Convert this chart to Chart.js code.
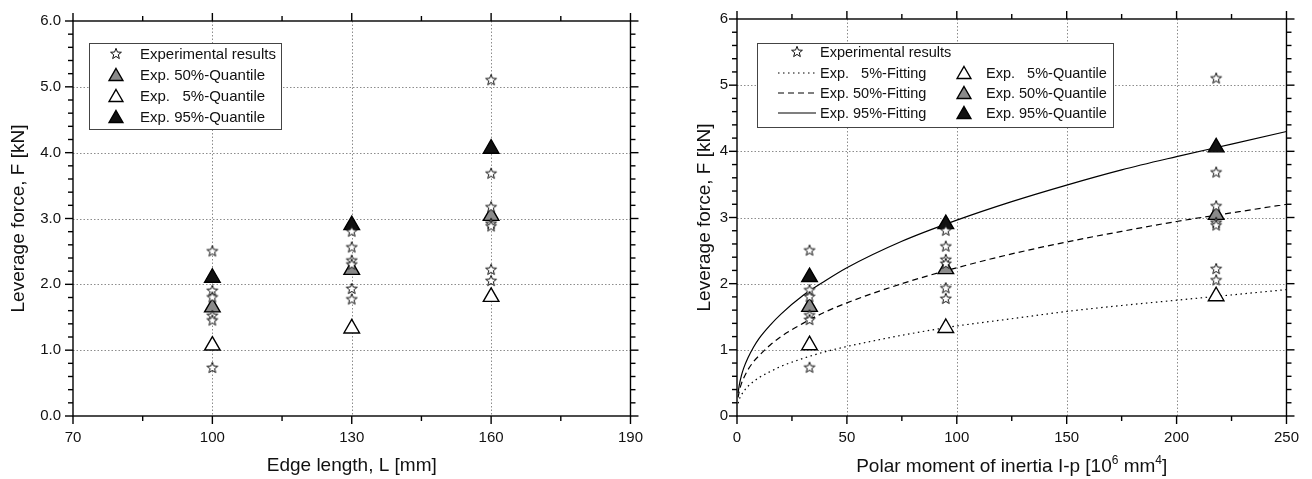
<!DOCTYPE html>
<html>
<head>
<meta charset="utf-8">
<script src="https://cdn.jsdelivr.net/npm/chart.js@4.4.1/dist/chart.umd.min.js"></script>
<style>
  html, body { margin: 0; padding: 0; background: #fff; }
  #wrap { position: relative; width: 1312px; height: 479px; }
  .box { position: absolute; top: 0; width: 656px; height: 479px; }
</style>
</head>
<body>
<div id="wrap">
  <div class="box" style="left:0"><canvas id="left" width="656" height="479"></canvas></div>
  <div class="box" style="left:656px"><canvas id="right" width="656" height="479"></canvas></div>
</div>
<script>
// measured values
var edgeLength = [100, 130, 160];
var polarMoment = [33, 95, 218];
var results1 = [2.50, 1.90, 1.80, 1.52, 1.45, 0.73];
var results2 = [2.80, 2.56, 2.36, 2.30, 1.93, 1.77];
var results3 = [5.10, 3.68, 3.17, 2.92, 2.88, 2.22, 2.05];
var quantile5 = [1.07, 1.33, 1.81];
var quantile50 = [1.65, 2.22, 3.04];
var quantile95 = [2.10, 2.90, 4.06];

// fitting curves
var fitX = [0.5, 1, 2, 3, 5, 7.5, 10, 15, 20, 30, 40, 50, 75, 100, 125, 150, 175, 200, 225, 250];
var fit5 = [0.19, 0.25, 0.32, 0.37, 0.45, 0.52, 0.58, 0.67, 0.75, 0.87, 0.97, 1.05, 1.22, 1.36, 1.47, 1.58, 1.67, 1.75, 1.83, 1.91];
var fit50 = [0.28, 0.37, 0.49, 0.57, 0.70, 0.82, 0.91, 1.07, 1.20, 1.40, 1.57, 1.71, 2.00, 2.24, 2.45, 2.63, 2.79, 2.94, 3.07, 3.20];
var fit95 = [0.35, 0.46, 0.61, 0.72, 0.88, 1.04, 1.17, 1.37, 1.54, 1.82, 2.04, 2.24, 2.64, 2.96, 3.24, 3.49, 3.72, 3.92, 4.11, 4.30];

var leftXTicks = [70, 100, 130, 160, 190];
var rightXTicks = [0, 50, 100, 150, 200, 250];
var yTicks = [0, 1, 2, 3, 4, 5, 6];

var FONT = "'Liberation Sans', Arial, sans-serif";
Chart.defaults.font.family = FONT;
Chart.defaults.color = '#111';

// five point star marker
var star = document.createElement('canvas');
star.width = 14; star.height = 14;
(function() {
  var c = star.getContext('2d');
  c.beginPath();
  for (var i = 0; i < 10; i++) {
    var r = i % 2 ? 2.4 : 5.7;
    var a = -Math.PI / 2 + i * Math.PI / 5;
    var px = 7 + r * Math.cos(a), py = 7 + r * Math.sin(a);
    if (i == 0) c.moveTo(px, py); else c.lineTo(px, py);
  }
  c.closePath();
  c.fillStyle = '#fff';
  c.fill();
  c.strokeStyle = '#111';
  c.lineWidth = 1;
  c.stroke();
})();

function pts(xs, ys) {
  var out = [];
  for (var i = 0; i < ys.length; i++) out.push({x: xs[i], y: ys[i]});
  return out;
}
function starPts(xs) {
  var out = [];
  [results1, results2, results3].forEach(function(r, i) {
    r.forEach(function(v) { out.push({x: xs[i], y: v}); });
  });
  return out;
}

function starSet(xs) {
  return { label: 'Experimental results', data: starPts(xs), pointStyle: star, pointRadius: 6,
           backgroundColor: '#fff', borderColor: '#111', borderWidth: 1 };
}
function triSet(label, xs, ys, fill, r) {
  return { label: label, data: pts(xs, ys), pointStyle: 'triangle', pointRadius: r,
           backgroundColor: fill, borderColor: '#000', borderWidth: 1.4 };
}
function fitSet(label, ys, dash) {
  return { label: label, data: pts(fitX, ys), showLine: true, pointRadius: 0, borderColor: '#000',
           borderWidth: 1.2, borderDash: dash, cubicInterpolationMode: 'monotone', fill: false };
}

// dotted grid, frame and outward ticks
var framePlugin = {
  id: 'frame',
  beforeDatasetsDraw: function(chart, args, o) {
    var ctx = chart.ctx, a = chart.chartArea, x = chart.scales.x, y = chart.scales.y;
    ctx.save();
    ctx.strokeStyle = '#8c8c8c';
    ctx.lineWidth = 1;
    ctx.setLineDash([1.5, 2]);
    x.ticks.forEach(function(t) {
      if (t.value <= x.min || t.value >= x.max) return;
      var px = Math.round(x.getPixelForValue(t.value)) + 0.5;
      ctx.beginPath(); ctx.moveTo(px, a.top); ctx.lineTo(px, a.bottom); ctx.stroke();
    });
    y.ticks.forEach(function(t) {
      if (t.value <= y.min || t.value >= y.max) return;
      var py = Math.round(y.getPixelForValue(t.value)) + 0.5;
      ctx.beginPath(); ctx.moveTo(a.left, py); ctx.lineTo(a.right, py); ctx.stroke();
    });
    ctx.restore();
  },
  afterDraw: function(chart, args, o) {
    var ctx = chart.ctx, a = chart.chartArea, x = chart.scales.x, y = chart.scales.y;
    ctx.save();
    ctx.strokeStyle = '#000';
    ctx.lineWidth = 1.4;
    ctx.setLineDash([]);
    ctx.strokeRect(a.left, a.top, a.right - a.left, a.bottom - a.top);
    function seg(x1, y1, x2, y2) { ctx.beginPath(); ctx.moveTo(x1, y1); ctx.lineTo(x2, y2); ctx.stroke(); }
    var n = Math.round((x.max - x.min) / o.xMinor);
    for (var i = 0; i <= n; i++) {
      var len = i % o.xEvery == 0 ? 8 : 5;
      var px = x.getPixelForValue(x.min + i * o.xMinor);
      seg(px, a.bottom, px, a.bottom + len);
      seg(px, a.top, px, a.top - len);
    }
    n = Math.round((y.max - y.min) / o.yMinor);
    for (i = 0; i <= n; i++) {
      len = i % o.yEvery == 0 ? 8 : 5;
      var py = y.getPixelForValue(y.min + i * o.yMinor);
      seg(a.left, py, a.left - len, py);
      seg(a.right, py, a.right + len, py);
    }
    if (o.title) {
      // axis title with superscripts
      var cx = (a.left + a.right) / 2, base = 472;
      var big = '19px ' + FONT, small = '12px ' + FONT;
      var parts = [[o.title[0], big, 0], [o.title[1], small, -8], [o.title[2], big, 0], [o.title[3], small, -8], [o.title[4], big, 0]];
      var w = 0;
      parts.forEach(function(p) { ctx.font = p[1]; w += ctx.measureText(p[0]).width; });
      var tx = cx - w / 2;
      ctx.fillStyle = '#111';
      ctx.textBaseline = 'alphabetic';
      parts.forEach(function(p) {
        ctx.font = p[1];
        ctx.fillText(p[0], tx, base + p[2]);
        tx += ctx.measureText(p[0]).width;
      });
    }
    ctx.restore();
  }
};

// boxed legend
var legendPlugin = {
  id: 'boxLegend',
  afterDatasetsDraw: function(chart, args, o) {
    var ctx = chart.ctx;
    ctx.save();
    ctx.fillStyle = '#fff';
    ctx.fillRect(o.box[0], o.box[1], o.box[2], o.box[3]);
    ctx.strokeStyle = '#444';
    ctx.lineWidth = 1;
    ctx.strokeRect(o.box[0] + 0.5, o.box[1] + 0.5, o.box[2], o.box[3]);
    o.items.forEach(function(it) {
      var ds = chart.data.datasets[it.ds];
      var my = o.rowY[it.row];
      var mx = o.colX[it.col];
      if (ds.showLine) {
        ctx.strokeStyle = ds.borderColor;
        ctx.lineWidth = ds.borderWidth;
        ctx.setLineDash(ds.borderDash || []);
        ctx.beginPath(); ctx.moveTo(mx - 19, my); ctx.lineTo(mx + 19, my); ctx.stroke();
        ctx.setLineDash([]);
      } else {
        ctx.fillStyle = ds.backgroundColor;
        ctx.strokeStyle = ds.borderColor;
        ctx.lineWidth = ds.borderWidth;
        Chart.helpers.drawPoint(ctx, {pointStyle: ds.pointStyle, radius: ds.pointStyle == 'triangle' ? 8 : ds.pointRadius,
                                       rotation: 0, borderWidth: ds.borderWidth}, mx, my + (ds.pointStyle == 'triangle' ? 1.5 : 0));
      }
      ctx.fillStyle = '#111';
      ctx.font = o.font + 'px ' + FONT;
      ctx.textBaseline = 'middle';
      ctx.fillText(ds.label, o.textX[it.col], my + 1);
    });
    ctx.restore();
  }
};

function makeScales(xMin, xMax, xTicks, xTitle, yWidth, yFmt, yTitlePad, yLabelPad) {
  return {
    x: {
      type: 'linear', min: xMin, max: xMax,
      afterFit: function(s) { s.height = 63; },
      afterBuildTicks: function(s) { s.ticks = xTicks.map(function(v) { return {value: v}; }); },
      grid: { display: false, drawTicks: false },
      border: { display: false },
      ticks: { padding: 13, autoSkip: false, maxRotation: 0, font: { size: 15 }, color: '#111' },
      title: { display: !!xTitle, text: xTitle, font: { size: 19 }, color: '#111', padding: { top: 0, bottom: 2 } }
    },
    y: {
      type: 'linear', min: 0, max: 6,
      afterFit: function(s) { s.width = yWidth; },
      afterBuildTicks: function(s) { s.ticks = yTicks.map(function(v) { return {value: v}; }); },
      grid: { display: false, drawTicks: false },
      border: { display: false },
      ticks: { padding: yLabelPad, font: { size: 15 }, color: '#111', callback: yFmt },
      title: { display: true, text: 'Leverage force, F [kN]', font: { size: 19 }, color: '#111', padding: { top: yTitlePad, bottom: 0 } }
    }
  };
}

new Chart(document.getElementById('left'), {
  type: 'scatter',
  data: {
    datasets: [
      starSet(edgeLength),
      triSet('Exp. 50%-Quantile', edgeLength, quantile50, '#8a8a8a', 9),
      triSet('Exp.   5%-Quantile', edgeLength, quantile5, '#fff', 9),
      triSet('Exp. 95%-Quantile', edgeLength, quantile95, '#111', 9)
    ]
  },
  options: {
    responsive: false, animation: false, events: [],
    layout: { padding: { left: 0, right: 15, top: 19, bottom: 0 } },
    scales: makeScales(70, 190, leftXTicks, 'Edge length, L [mm]', 73, function(v) { return v.toFixed(1); }, 7.6, 12),
    plugins: {
      legend: { display: false }, tooltip: { enabled: false },
      frame: { xMinor: 15, xEvery: 2, yMinor: 0.2, yEvery: 5 },
      boxLegend: {
        font: 15,
        box: [89, 43, 192, 86], rowY: [54, 75, 96, 117], colX: [116], textX: [140],
        items: [{ds: 0, row: 0, col: 0}, {ds: 1, row: 1, col: 0}, {ds: 2, row: 2, col: 0}, {ds: 3, row: 3, col: 0}]
      }
    }
  },
  plugins: [framePlugin, legendPlugin]
});

new Chart(document.getElementById('right'), {
  type: 'scatter',
  data: {
    datasets: [
      starSet(polarMoment),
      triSet('Exp.   5%-Quantile', polarMoment, quantile5, '#fff', 9),
      triSet('Exp. 50%-Quantile', polarMoment, quantile50, '#8a8a8a', 9),
      triSet('Exp. 95%-Quantile', polarMoment, quantile95, '#111', 9),
      fitSet('Exp.   5%-Fitting', fit5, [1.5, 3.5]),
      fitSet('Exp. 50%-Fitting', fit50, [6, 4]),
      fitSet('Exp. 95%-Fitting', fit95, [])
    ]
  },
  options: {
    responsive: false, animation: false, events: [],
    layout: { padding: { left: 0, right: 14, top: 19, bottom: 0 } },
    scales: makeScales(0, 250, rightXTicks, '', 81, function(v) { return String(v); }, 37.6, 9),
    plugins: {
      legend: { display: false }, tooltip: { enabled: false },
      frame: { xMinor: 25, xEvery: 2, yMinor: 0.2, yEvery: 5,
               title: ['Polar moment of inertia I-p [10', '6', ' mm', '4', ']'] },
      boxLegend: {
        font: 14.5,
        box: [101, 43, 356, 84], rowY: [52, 73, 93, 113], colX: [141, 308], textX: [164, 330],
        items: [{ds: 0, row: 0, col: 0},
                {ds: 4, row: 1, col: 0}, {ds: 1, row: 1, col: 1},
                {ds: 5, row: 2, col: 0}, {ds: 2, row: 2, col: 1},
                {ds: 6, row: 3, col: 0}, {ds: 3, row: 3, col: 1}]
      }
    }
  },
  plugins: [framePlugin, legendPlugin]
});
</script>
</body>
</html>
